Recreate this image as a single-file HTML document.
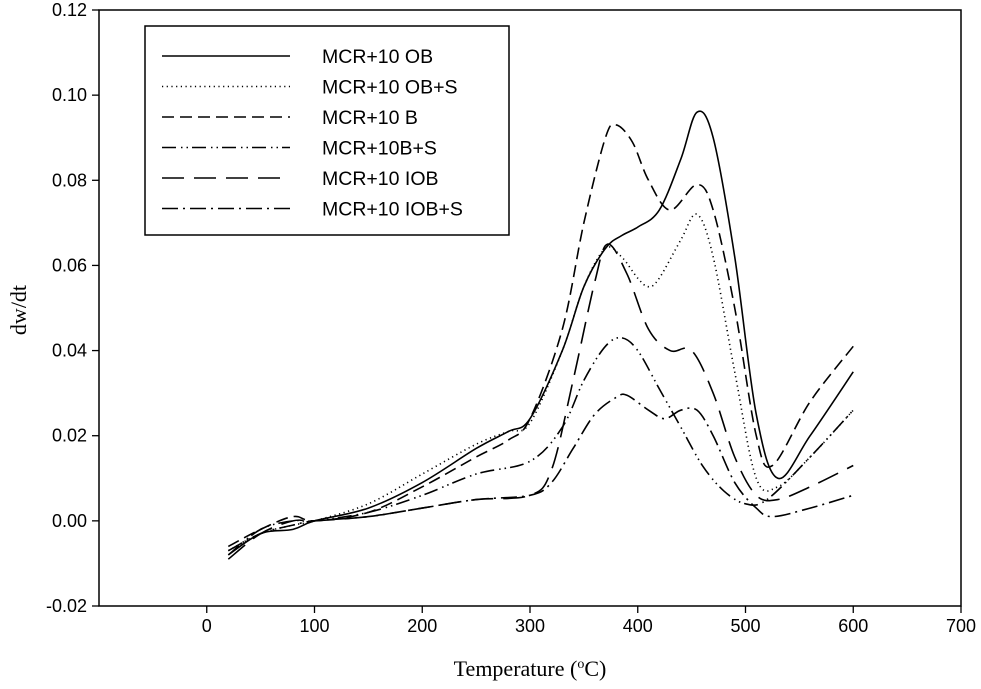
<!DOCTYPE html>
<html><head><meta charset="utf-8"><style>
body{margin:0;background:#fff;}
svg{display:block;}
.tk{font-family:"Liberation Sans",sans-serif;font-size:18px;fill:#000;}
.tt{font-family:"Liberation Serif",serif;font-size:22px;fill:#000;}
.lg{font-family:"Liberation Sans",sans-serif;font-size:19.5px;fill:#000;}
</style></head><body>
<svg id="chart" width="981" height="689"></svg>
<script>
const xTicks=[0,100,200,300,400,500,600,700];
const yTicks=[-0.02,0,0.02,0.04,0.06,0.08,0.10,0.12];
const seriesNames=["MCR+10 OB","MCR+10 OB+S","MCR+10 B","MCR+10B+S","MCR+10 IOB","MCR+10 IOB+S"];
const tOB=[20,50,80,100,150,200,250,280,300,330,350,370,385,400,420,440,455,470,490,510,530,560,600];
const vOB=[-0.008,-0.003,-0.002,0,0.003,0.009,0.017,0.021,0.024,0.040,0.055,0.064,0.067,0.069,0.073,0.085,0.096,0.090,0.062,0.025,0.010,0.020,0.035];
const tOBS=[20,50,80,100,150,200,250,280,300,330,350,370,385,400,410,420,440,455,470,490,510,530,560,600];
const vOBS=[-0.007,-0.003,-0.001,0,0.004,0.011,0.018,0.021,0.023,0.040,0.055,0.064,0.062,0.057,0.055,0.057,0.066,0.072,0.062,0.035,0.010,0.008,0.015,0.026];
const tB=[20,50,80,100,150,200,250,280,300,330,350,370,380,395,410,430,455,470,490,510,525,560,600];
const vB=[-0.006,-0.002,0.001,0,0.002,0.008,0.015,0.019,0.024,0.045,0.070,0.090,0.093,0.089,0.080,0.073,0.079,0.073,0.050,0.020,0.013,0.028,0.041];
const tBS=[20,50,80,100,150,200,250,300,330,350,370,385,400,420,440,460,480,500,520,560,600];
const vBS=[-0.008,-0.002,0,0,0.002,0.006,0.011,0.014,0.022,0.033,0.041,0.043,0.040,0.031,0.022,0.013,0.007,0.004,0.005,0.015,0.026];
const tIOB=[20,50,80,100,150,200,250,300,320,340,360,372,390,410,430,450,470,490,510,530,560,600];
const vIOB=[-0.009,-0.003,0,0,0.001,0.003,0.005,0.006,0.012,0.033,0.056,0.065,0.058,0.045,0.040,0.040,0.030,0.015,0.006,0.005,0.008,0.013];
const tIOBS=[20,50,80,100,150,200,250,300,320,340,360,380,390,410,425,440,455,470,490,510,525,560,600];
const vIOBS=[-0.007,-0.003,-0.001,0,0.001,0.003,0.005,0.006,0.009,0.017,0.025,0.029,0.0295,0.026,0.024,0.026,0.026,0.020,0.009,0.003,0.001,0.003,0.006];
const dashes=["","1.2 3.5","12 6","14 5 1.5 4 1.5 4","22 10","16 5 2 5"];
const ts=[tOB,tOBS,tB,tBS,tIOB,tIOBS], vs=[vOB,vOBS,vB,vBS,vIOB,vIOBS];
const L=99,R=961,T=10,B=606;
const xs=v=>L+(v+100)/800*(R-L);
const ys=v=>B-(v+0.02)/0.14*(B-T);
const svg=document.getElementById('chart');
const NS="http://www.w3.org/2000/svg";
function mk(tag,at){const e=document.createElementNS(NS,tag);for(const k in at)e.setAttribute(k,at[k]);svg.appendChild(e);return e;}
let fr=mk('rect',{x:L,y:T,width:R-L,height:B-T,fill:'none',stroke:'#000','stroke-width':1.5});

xTicks.forEach(t=>{const x=xs(t);
 let l=mk('line',{x1:x,x2:x,y1:B,y2:B+7,stroke:'#000','stroke-width':1.3});
 
 let s=mk('text',{x:x,y:B+26,'text-anchor':'middle',class:'tk'});s.textContent=t;
 });
yTicks.forEach(t=>{const y=ys(t);
 let l=mk('line',{x1:L-7,x2:L,y1:y,y2:y,stroke:'#000','stroke-width':1.3});
 
 let s=mk('text',{x:L-12,y:y+6,'text-anchor':'end',class:'tk'});s.textContent=t.toFixed(2);
 });
let xt=mk('text',{x:530,y:676,'text-anchor':'middle',class:'tt'});
xt.innerHTML='Temperature (<tspan dy="-8" font-size="14">o</tspan><tspan dy="8">C)</tspan>';

let yt=mk('text',{x:26,y:310,'text-anchor':'middle',class:'tt',transform:'rotate(-90 26 310)'});yt.textContent='dw/dt';

function pathOf(t,v){const p=t.map((a,i)=>[xs(a),ys(v[i])]);let d=`M${p[0][0]},${p[0][1]}`;
 for(let i=0;i<p.length-1;i++){const p0=p[Math.max(0,i-1)],p1=p[i],p2=p[i+1],p3=p[Math.min(p.length-1,i+2)];
  const c1=[p1[0]+(p2[0]-p0[0])/6,p1[1]+(p2[1]-p0[1])/6],c2=[p2[0]-(p3[0]-p1[0])/6,p2[1]-(p3[1]-p1[1])/6];
  d+=`C${c1[0]},${c1[1]} ${c2[0]},${c2[1]} ${p2[0]},${p2[1]}`;}return d;}
ts.forEach((t,i)=>{let p=mk('path',{d:pathOf(t,vs[i]),fill:'none',stroke:'#000','stroke-width':1.6,'stroke-dasharray':dashes[i]});
 });
let lb=mk('rect',{x:145,y:26,width:364,height:209,fill:'#fff',stroke:'#000','stroke-width':1.5});

seriesNames.forEach((n,i)=>{const y=56+i*30.5;
 let l=mk('line',{x1:162,x2:290,y1:y,y2:y,stroke:'#000','stroke-width':1.6,'stroke-dasharray':dashes[i]});
 
 let s=mk('text',{x:322,y:y+7,class:'lg'});s.textContent=n;
 });
</script>
</body></html>
